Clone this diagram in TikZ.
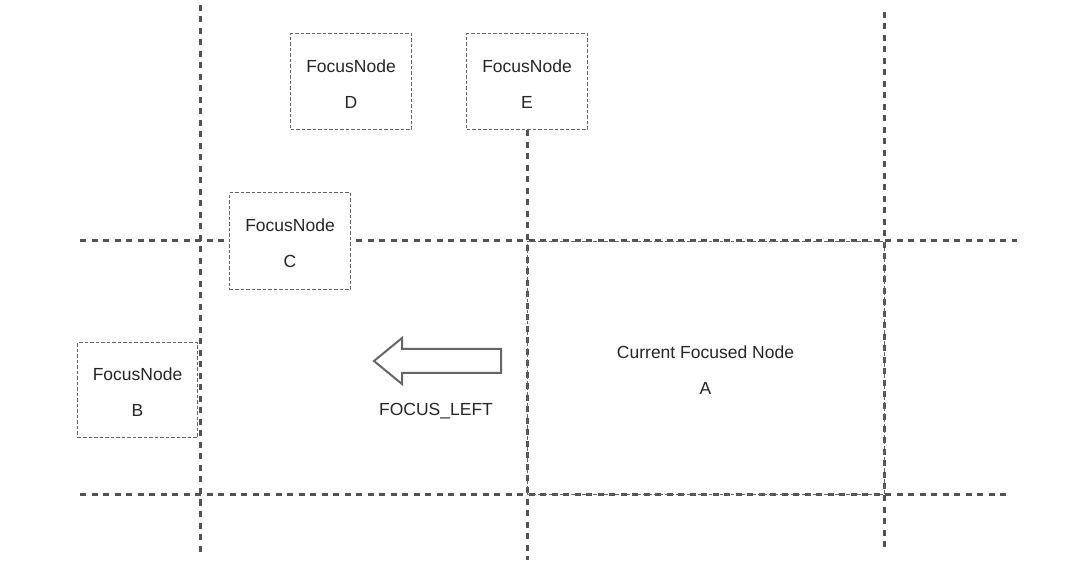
\documentclass[tikz,border=0pt]{standalone}
\usepackage{fontspec}
\setmainfont{Liberation Sans}
\begin{document}
\begin{tikzpicture}[x=1pt,y=-1pt,
  grid/.style={draw=black!68,line width=3pt,dash pattern=on 6pt off 5.5pt},
  fbox/.style={draw=black!60,line width=1pt,dash pattern=on 3.5pt off 2pt,
    inner sep=0pt},
  lbl/.style={text=black!85,font=\fontsize{17.5}{21}\selectfont,inner sep=0pt,align=center},
  txt/.style={label={[lbl,yshift=-2pt]center:#1}}]
\useasboundingbox (0,0) rectangle (1080,577);
% grid lines
\draw[grid] (200,5) -- (200,555);
\draw[grid] (884,12) -- (884,550);
\draw[grid] (80,241) -- (1017,241);
\draw[grid] (80,494) -- (1010,494);
% boxes
\node[fbox,fill=white,minimum width=121pt,minimum height=96pt,txt={FocusNode\\[15pt]D}] (D) at (351,82) {};
\node[fbox,fill=white,minimum width=121pt,minimum height=96pt,txt={FocusNode\\[15pt]E}] (E) at (527,82) {};
\draw[grid] (E.south) -- (527,560);
\node[fbox,fill=white,minimum width=121pt,minimum height=97pt,txt={FocusNode\\[15pt]C}] (C) at (290,241.5) {};
\node[fbox,fill=white,minimum width=120pt,minimum height=95pt,txt={FocusNode\\[15pt]B}] (B) at (137.5,390.5) {};
\node[fbox,minimum width=357pt,minimum height=252pt,txt={Current Focused Node\\[15pt]A}] (A) at (705.5,368) {};
% arrow
\draw[draw=black!60,line width=2pt,line join=miter,fill=white]
  (374,361) -- (402,338) -- (402,349) -- (501,349) -- (501,373) -- (402,373) -- (402,384) -- cycle;
\node[lbl] (fl) at (436,411) {FOCUS\_LEFT};
\end{tikzpicture}
\end{document}
